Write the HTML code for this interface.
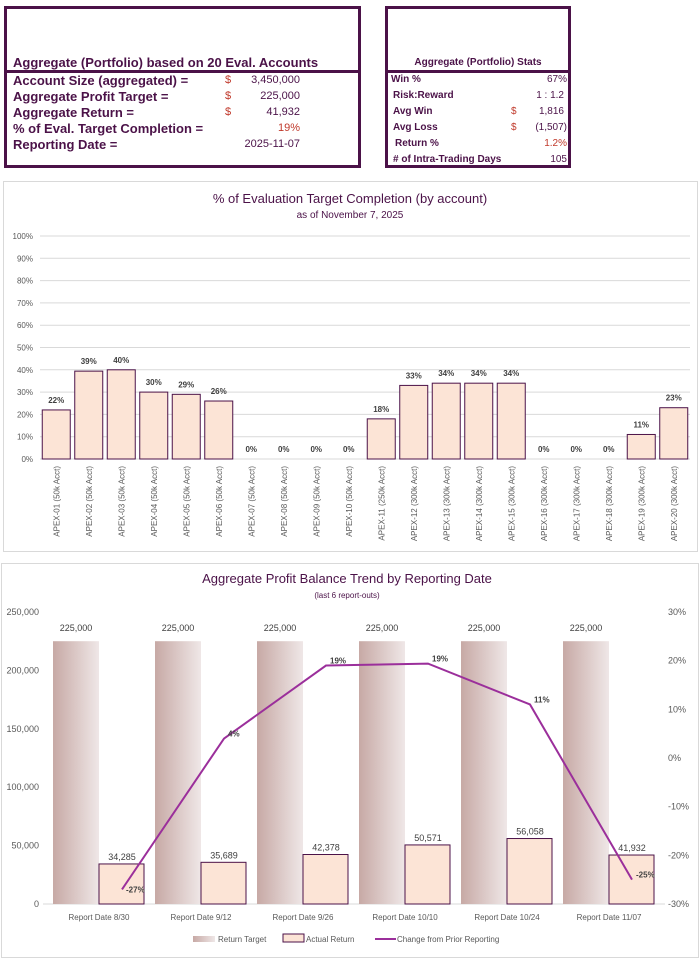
<!DOCTYPE html>
<html><head><meta charset="utf-8">
<style>
body{margin:0;width:700px;height:960px;background:#fff;font-family:"Liberation Sans Narrow","Liberation Sans",sans-serif;position:relative;overflow:hidden;color:#4b1248}
.box{position:absolute;border:3px solid #4b1248;box-sizing:border-box}
.t{position:absolute;white-space:nowrap}
.panel{position:absolute;border:1px solid #d9d9d9;box-sizing:border-box}
svg text{font-family:"Liberation Sans Narrow","Liberation Sans",sans-serif}
</style></head><body>
<div class="box" style="left:4px;top:6px;width:357px;height:162px">
 <div style="position:absolute;left:0;right:0;top:61px;border-top:3px solid #4b1248"></div>
 <div class="t" style="left:6px;top:46px;font-size:13px;font-weight:bold">Aggregate (Portfolio) based on 20 Eval. Accounts</div>
 <div class="t" style="left:6px;top:64px;font-size:13px;font-weight:bold">Account Size (aggregated) =</div>
 <div class="t" style="left:6px;top:80px;font-size:13px;font-weight:bold">Aggregate Profit Target =</div>
 <div class="t" style="left:6px;top:96px;font-size:13px;font-weight:bold">Aggregate Return =</div>
 <div class="t" style="left:6px;top:112px;font-size:13px;font-weight:bold">% of Eval. Target Completion =</div>
 <div class="t" style="left:6px;top:128px;font-size:13px;font-weight:bold">Reporting Date =</div>
 <div class="t" style="left:218px;top:65px;font-size:11px;color:#c0392b">$</div>
 <div class="t" style="left:218px;top:81px;font-size:11px;color:#c0392b">$</div>
 <div class="t" style="left:218px;top:97px;font-size:11px;color:#c0392b">$</div>
 <div class="t" style="right:58px;top:65px;font-size:11px">3,450,000</div>
 <div class="t" style="right:58px;top:81px;font-size:11px">225,000</div>
 <div class="t" style="right:58px;top:97px;font-size:11px">41,932</div>
 <div class="t" style="right:58px;top:113px;font-size:11px;color:#c0392b">19%</div>
 <div class="t" style="right:58px;top:129px;font-size:11px">2025-11-07</div>
</div>
<div class="box" style="left:385px;top:6px;width:186px;height:162px">
 <div style="position:absolute;left:0;right:0;top:61px;border-top:3px solid #4b1248"></div>
 <div class="t" style="left:0;right:0;text-align:center;top:48px;font-size:10px;font-weight:bold">Aggregate (Portfolio) Stats</div>
 <div class="t" style="left:3px;top:65px;font-size:10px;font-weight:bold">Win %</div>
 <div class="t" style="left:5px;top:81px;font-size:10px;font-weight:bold">Risk:Reward</div>
 <div class="t" style="left:5px;top:97px;font-size:10px;font-weight:bold">Avg Win</div>
 <div class="t" style="left:5px;top:113px;font-size:10px;font-weight:bold">Avg Loss</div>
 <div class="t" style="left:7px;top:129px;font-size:10px;font-weight:bold">Return %</div>
 <div class="t" style="left:5px;top:145px;font-size:10px;font-weight:bold"># of Intra-Trading Days</div>
 <div class="t" style="left:123px;top:97px;font-size:10px;color:#c0392b">$</div>
 <div class="t" style="left:123px;top:113px;font-size:10px;color:#c0392b">$</div>
 <div class="t" style="right:1px;top:65px;font-size:10px">67%</div>
 <div class="t" style="right:4px;top:81px;font-size:10px">1 : 1.2</div>
 <div class="t" style="right:4px;top:97px;font-size:10px">1,816</div>
 <div class="t" style="right:1px;top:113px;font-size:10px">(1,507)</div>
 <div class="t" style="right:1px;top:129px;font-size:10px;color:#c0392b">1.2%</div>
 <div class="t" style="right:1px;top:145px;font-size:10px">105</div>
</div>

<div class="panel" style="left:3px;top:181px;width:695px;height:371px"></div>
<svg id="c1" width="700" height="960" style="position:absolute;left:0;top:0"></svg>

<div class="panel" style="left:1px;top:563px;width:698px;height:395px"></div>

<script>
const accounts=["APEX-01 (50k Acct)","APEX-02 (50k Acct)","APEX-03 (50k Acct)","APEX-04 (50k Acct)","APEX-05 (50k Acct)","APEX-06 (50k Acct)","APEX-07 (50k Acct)","APEX-08 (50k Acct)","APEX-09 (50k Acct)","APEX-10 (50k Acct)","APEX-11 (250k Acct)","APEX-12 (300k Acct)","APEX-13 (300k Acct)","APEX-14 (300k Acct)","APEX-15 (300k Acct)","APEX-16 (300k Acct)","APEX-17 (300k Acct)","APEX-18 (300k Acct)","APEX-19 (300k Acct)","APEX-20 (300k Acct)"];
const completion=[22,39.4,40,30,29,26,0,0,0,0,18,33,34,34,34,0,0,0,11,23];
const pctTicks=[0,10,20,30,40,50,60,70,80,90,100];

const reportDates=["Report Date 8/30","Report Date 9/12","Report Date 9/26","Report Date 10/10","Report Date 10/24","Report Date 11/07"];
const returnTarget=[225000,225000,225000,225000,225000,225000];
const actualReturn=[34285,35689,42378,50571,56058,41932];
const changePct=[-27,4,19,19.4,11,-25];
const leftTicks=[0,50000,100000,150000,200000,250000];
const rightTicks=[-30,-20,-10,0,10,20,30];

const NS="http://www.w3.org/2000/svg";
const svg=document.getElementById('c1');
function el(tag,attrs,parent){const e=document.createElementNS(NS,tag);for(const k in attrs)e.setAttribute(k,attrs[k]);(parent||svg).appendChild(e);return e;}
function tx(x,y,s,attrs,parent){const e=el('text',Object.assign({x:x,y:y},attrs||{}),parent);e.textContent=s;return e;}

// Chart 1
const x0=40,x1=690,yb=459,yt=236;
const cw=(x1-x0)/accounts.length;
const ys=v=>yb-(v/100)*(yb-yt);
const xs=i=>x0+i*cw;
let t=tx(350,203,"% of Evaluation Target Completion (by account)",{"font-size":"13","text-anchor":"middle",fill:"#4b1248"});

t=tx(350,218,"as of November 7, 2025",{"font-size":"10","text-anchor":"middle",fill:"#4b1248"});

pctTicks.forEach(v=>{
 const g=el('line',{x1:x0,x2:x1,y1:ys(v),y2:ys(v),stroke:"#d9d9d9","stroke-width":1});
 
 const l=tx(33,ys(v)+3,v+"%",{"font-size":"8","text-anchor":"end",fill:"#595959"});
 
});
completion.forEach((v,i)=>{
 const bw=28,bx=xs(i)+(cw-bw)/2;
 if(v>0){const r=el('rect',{x:bx,y:ys(v),width:bw,height:yb-ys(v),fill:"#fce4d6",stroke:"#4b1248","stroke-width":1});
 }
 const l=tx(bx+bw/2,ys(v)-7,Math.round(v)+"%",{"font-size":"8","font-weight":"bold","text-anchor":"middle",fill:"#404040"});
 
 const c=tx(0,0,accounts[i],{"font-size":"8",fill:"#595959","text-anchor":"end",transform:`translate(${bx+bw/2+3},466) rotate(-90)`});
 
});

// Chart 2
const defs=el('defs',{});
const lg=el('linearGradient',{id:'tg',x1:0,x2:1,y1:0,y2:0},defs);
el('stop',{offset:0,'stop-color':'#c7a9a5'},lg);el('stop',{offset:1,'stop-color':'#efe7e7'},lg);
const bx0=48,bx1=660,by0=904,by1=612;
const ccw=(bx1-bx0)/reportDates.length;
const yL=v=>by0-(v/250000)*(by0-by1);
const yR=v=>by0-((v+30)/60)*(by0-by1);
const xc=i=>bx0+i*ccw;
t=tx(347,583,"Aggregate Profit Balance Trend by Reporting Date",{"font-size":"13","text-anchor":"middle",fill:"#4b1248"});

t=tx(347,598,"(last 6 report-outs)",{"font-size":"8","text-anchor":"middle",fill:"#4b1248"});

el('line',{x1:bx0-5,x2:bx1+5,y1:by0,y2:by0,stroke:"#d9d9d9"});
leftTicks.forEach(v=>{const l=tx(39,yL(v)+3,v.toLocaleString('en-US'),{"font-size":"9","text-anchor":"end",fill:"#595959"});
 });
rightTicks.forEach(v=>{const l=tx(668,yR(v)+3,v+"%",{"font-size":"9",fill:"#595959"});
 });
const bw2=46;
reportDates.forEach((d,i)=>{
 const c=xc(i)+ccw/2;
 const r1=el('rect',{x:c-bw2,y:yL(returnTarget[i]),width:bw2,height:by0-yL(returnTarget[i]),fill:"url(#tg)"});
 
 const l1=tx(c-bw2/2,yL(returnTarget[i])-10,returnTarget[i].toLocaleString('en-US'),{"font-size":"9","text-anchor":"middle",fill:"#404040"});
 
 const r2=el('rect',{x:c,y:yL(actualReturn[i]),width:bw2-1,height:by0-yL(actualReturn[i]),fill:"#fce4d6",stroke:"#4b1248","stroke-width":1});
 
 const l2=tx(c+bw2/2,yL(actualReturn[i])-4,actualReturn[i].toLocaleString('en-US'),{"font-size":"9","text-anchor":"middle",fill:"#404040"});
 
 const xl=tx(c,920,d,{"font-size":"8","text-anchor":"middle",fill:"#595959"});
 
});
const pts=changePct.map((v,i)=>[xc(i)+ccw/2+bw2/2,yR(v)]);
const pl=el('polyline',{points:pts.map(p=>p.join(',')).join(' '),fill:"none",stroke:"#9b2f9b","stroke-width":2});

changePct.forEach((v,i)=>{const l=tx(pts[i][0]+4,pts[i][1]+(i==0?3:-2),Math.round(v)+"%",{"font-size":"8","font-weight":"bold",fill:"#404040"});
 });
// legend
const lgd=el('g',{});

el('rect',{x:193,y:936,width:22,height:6,fill:"url(#tg)"},lgd);
tx(218,942,"Return Target",{"font-size":"8",fill:"#595959"},lgd);
el('rect',{x:283,y:934,width:21,height:8,fill:"#fce4d6",stroke:"#4b1248"},lgd);
tx(306,942,"Actual Return",{"font-size":"8",fill:"#595959"},lgd);
el('line',{x1:375,x2:396,y1:939,y2:939,stroke:"#9b2f9b","stroke-width":2},lgd);
tx(397,942,"Change from Prior Reporting",{"font-size":"8",fill:"#595959"},lgd);
</script>
</body></html>
